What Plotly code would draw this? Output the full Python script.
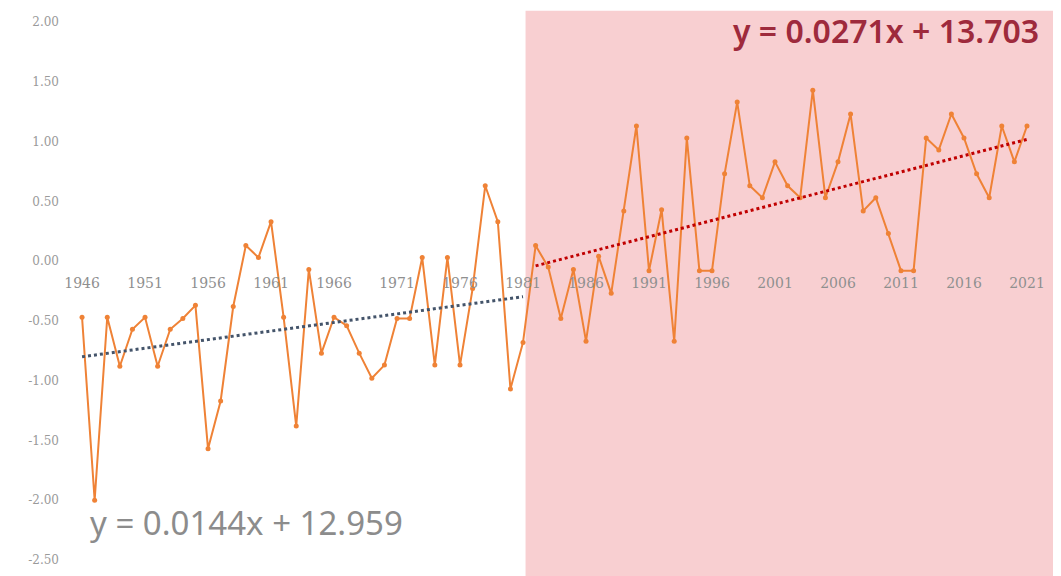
import numpy as np
import plotly.graph_objects as go

years = list(range(1946, 2022))
values = [
    -0.47, -2.00, -0.47, -0.88, -0.57, -0.47, -0.88, -0.57, -0.48, -0.37,   # 1946-1955
    -1.57, -1.17, -0.38, 0.13, 0.03, 0.33, -0.47, -1.38, -0.07, -0.77,      # 1956-1965
    -0.47, -0.54, -0.77, -0.98, -0.87, -0.48, -0.48, 0.03, -0.87, 0.03,     # 1966-1975
    -0.87, -0.23, 0.63, 0.33, -1.07, -0.68, 0.13, -0.05, -0.48, -0.07,      # 1976-1985
    -0.67, 0.04, -0.27, 0.42, 1.13, -0.08, 0.43, -0.67, 1.03, -0.08,        # 1986-1995
    -0.08, 0.73, 1.33, 0.63, 0.53, 0.83, 0.63, 0.53, 1.43, 0.53,            # 1996-2005
    0.83, 1.23, 0.42, 0.53, 0.23, -0.08, -0.08, 1.03, 0.93, 1.23,           # 2006-2015
    1.03, 0.73, 0.53, 1.13, 0.83, 1.13,                                     # 2016-2021
]
split_year = 1981          # last year of the early period
shade_from = 1981.2        # start of the shaded recent period
tick_years = list(range(1946, 2022, 5))
y_ticks = [2.0, 1.5, 1.0, 0.5, 0.0, -0.5, -1.0, -1.5, -2.0, -2.5]
eq_early = "y = 0.0144x + 12.959"
eq_late = "y = 0.0271x + 13.703"

yrs = np.array(years)
vals = np.array(values)
early = yrs <= split_year
late = yrs > split_year

def trend(mask):
    x = yrs[mask]
    k, b = np.polyfit(x, vals[mask], 1)
    return x, k * x + b

ex, ey = trend(early)
lx, ly = trend(late)

y_range = [-2.634, 2.117]
x_range = [1944.25, 2023.7]

fig = go.Figure()
fig.add_shape(type="rect", xref="x", yref="paper", x0=shade_from, x1=x_range[1],
              y0=0, y1=0.995, fillcolor="rgb(248,207,209)", line_width=0, layer="below")

fig.add_trace(go.Scatter(x=years, y=values, mode="lines+markers",
                         line=dict(color="#EF8236", width=2),
                         marker=dict(color="#EF8236", size=5), showlegend=False))
fig.add_trace(go.Scatter(x=ex, y=ey, mode="lines",
                         line=dict(color="#44546A", width=3, dash="dot"), showlegend=False))
fig.add_trace(go.Scatter(x=lx, y=ly, mode="lines",
                         line=dict(color="#C00000", width=3, dash="dot"), showlegend=False))

fig.add_annotation(x=1, xref="paper", xanchor="right", xshift=-20, y=1.93, yref="y",
                   text=eq_late, showarrow=False,
                   font=dict(family="Noto Sans", size=32, color="#9E2A3C", weight=600))
fig.add_annotation(x=1946.45, xref="x", xanchor="left", y=-2.19, yref="y",
                   text=eq_early, showarrow=False,
                   font=dict(family="Noto Sans", size=33, color="#8C8C8C"))

zero_pos = (0 - y_range[0]) / (y_range[1] - y_range[0])

fig.update_layout(
    width=1053, height=568,
    margin=dict(l=52, r=0, t=0, b=0),
    paper_bgcolor="white", plot_bgcolor="rgba(0,0,0,0)",
    xaxis=dict(range=x_range, tickvals=tick_years, ticktext=[str(t) for t in tick_years],
               showgrid=False, zeroline=False, showline=False, ticks="",
               anchor="free", position=zero_pos, ticklabelstandoff=12,
               tickfont=dict(family="DejaVu Serif", size=14, color="#8F8F8F")),
    yaxis=dict(range=y_range, tickvals=y_ticks, ticktext=[f"{v:.2f}" for v in y_ticks],
               showgrid=False, zeroline=False, showline=False, ticks="",
               tickfont=dict(family="DejaVu Serif", size=12, color="#9A9A9A")),
)

fig.write_html("out.html")
